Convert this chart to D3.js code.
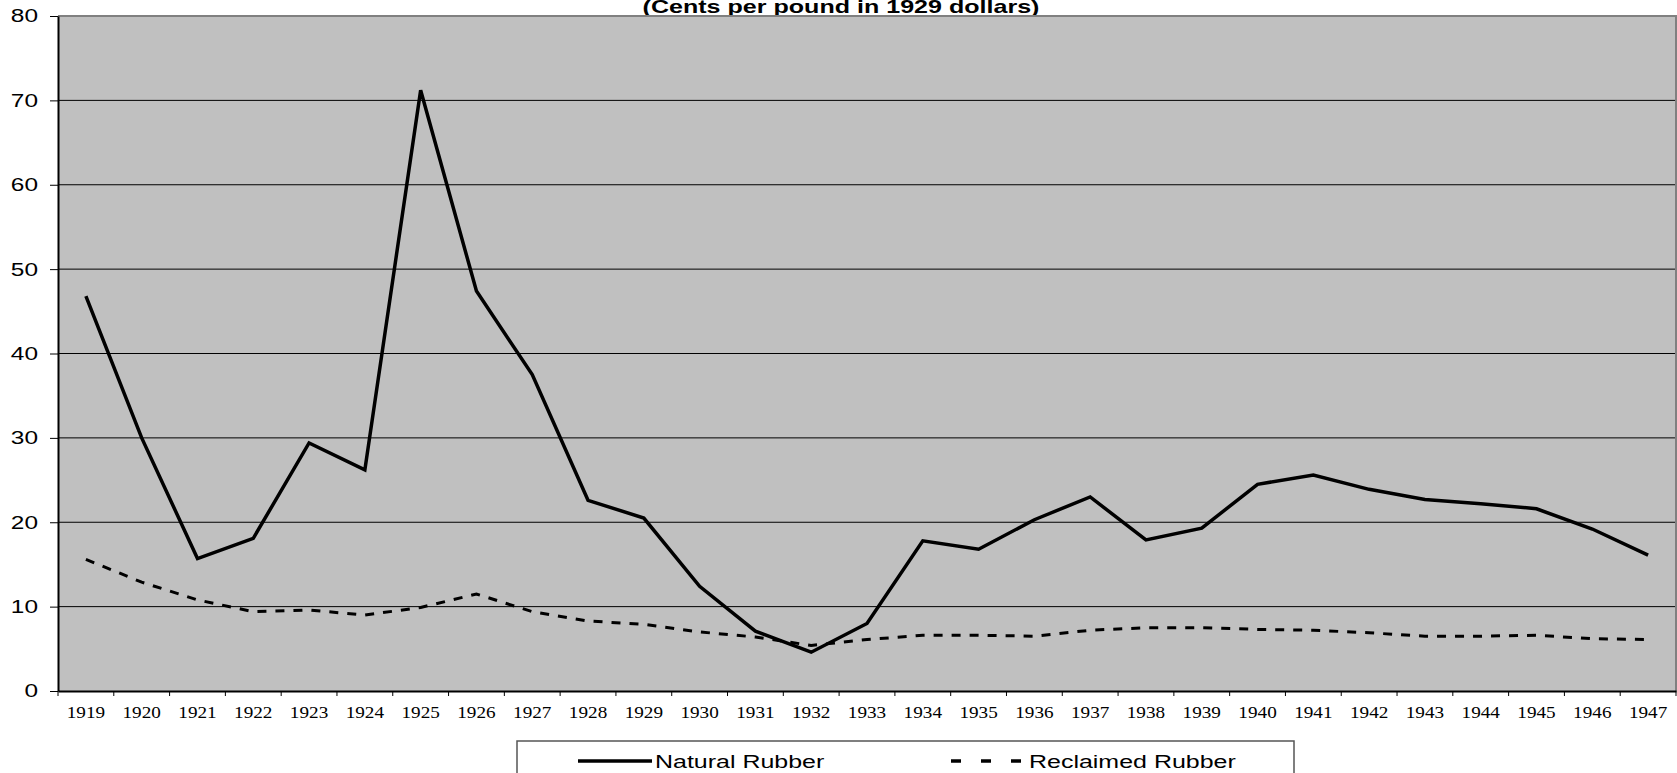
<!DOCTYPE html>
<html>
<head>
<meta charset="utf-8">
<script src="https://d3js.org/d3.v7.min.js"></script>
<style>
	body { margin: 0; background: #fff; overflow: hidden; }
	svg { display: block; }
</style>
</head>
<body>
<div id="chart-area"></div>
<script>
// data
const years = ["1919","1920","1921","1922","1923","1924","1925","1926","1927","1928",
	"1929","1930","1931","1932","1933","1934","1935","1936","1937","1938",
	"1939","1940","1941","1942","1943","1944","1945","1946","1947"]
const naturalRubber = [46.8, 30.0, 15.7, 18.1, 29.4, 26.2, 71.2, 47.4, 37.5, 22.6,
	20.5, 12.4, 7.1, 4.6, 8.0, 17.8, 16.8, 20.3, 23.0, 17.9,
	19.3, 24.5, 25.6, 23.9, 22.7, 22.2, 21.6, 19.2, 16.1]
const reclaimedRubber = [15.6, 12.9, 10.8, 9.4, 9.6, 9.0, 9.9, 11.5, 9.4, 8.3,
	7.9, 7.0, 6.4, 5.4, 6.1, 6.6, 6.6, 6.5, 7.2, 7.5,
	7.5, 7.3, 7.2, 6.9, 6.5, 6.5, 6.6, 6.2, 6.1]
const yTicks = [0, 10, 20, 30, 40, 50, 60, 70, 80]
const titleText = "(Cents per pound in 1929 dollars)"
const seriesNames = ["Natural Rubber", "Reclaimed Rubber"]

const MARGIN = { LEFT: 58, RIGHT: 1, TOP: 16, BOTTOM: 82 }
const W = 1677, H = 773
const WIDTH = W - MARGIN.LEFT - MARGIN.RIGHT
const HEIGHT = H - MARGIN.TOP - MARGIN.BOTTOM
const SX = 1.32   // the original picture is stretched sideways
const SANS = "'Liberation Sans', Arial, sans-serif"
const SERIF = "'Liberation Serif', 'Times New Roman', serif"

const svg = d3.select("#chart-area").append("svg")
	.attr("width", W)
	.attr("height", H)

// title (top is cut off in the reference)
svg.append("text")
	.attr("transform", `translate(841, 13) scale(${SX}, 1)`)
	.attr("text-anchor", "middle")
	.attr("font-family", SANS)
	.attr("font-weight", "bold")
	.attr("font-size", 19)
	.attr("fill", "#000")
	.text(titleText)

const g = svg.append("g")
	.attr("transform", `translate(${MARGIN.LEFT}, ${MARGIN.TOP})`)

// scales
const x = d3.scaleBand().domain(years).range([0, WIDTH]).padding(0)
const y = d3.scaleLinear().domain([0, 80]).range([HEIGHT, 0])
const cx = d => x(d) + x.bandwidth() / 2

// plot background
g.append("rect")
	.attr("width", WIDTH)
	.attr("height", HEIGHT)
	.attr("fill", "#c0c0c0")

// gridlines
g.append("g").selectAll("line")
	.data(yTicks.filter(v => v > 0 && v < 80))
	.join("line")
	.attr("x1", 0).attr("x2", WIDTH)
	.attr("y1", d => y(d)).attr("y2", d => y(d))
	.attr("stroke", "#000")
	.attr("stroke-width", 1)

// top and right border
g.append("path")
	.attr("d", `M0,${y(80)}H${WIDTH}V${HEIGHT}`)
	.attr("fill", "none")
	.attr("stroke", "#808080")
	.attr("stroke-width", 2)

// y axis
const yAxis = g.append("g")
	.call(d3.axisLeft(y).tickValues(yTicks).tickSize(8).tickSizeOuter(0))
yAxis.select(".domain").attr("stroke", "#000").attr("stroke-width", 2)
yAxis.selectAll(".tick line").attr("stroke", "#000")
yAxis.selectAll(".tick text")
	.attr("x", -20 / SX)
	.attr("transform", `scale(${SX}, 1)`)
	.attr("font-family", SANS)
	.attr("font-size", 18.5)
	.attr("fill", "#000")

// x axis (labels centred, ticks on category edges)
const xAxis = g.append("g")
	.attr("transform", `translate(0, ${HEIGHT})`)
	.call(d3.axisBottom(x).tickSize(0).tickSizeOuter(0))
xAxis.select(".domain").attr("stroke", "#000").attr("stroke-width", 2)
xAxis.selectAll(".tick text")
	.attr("y", 27)
	.attr("dy", 0)
	.attr("transform", `scale(1.13, 1)`)
	.attr("font-family", SERIF)
	.attr("font-size", 17)
	.attr("fill", "#000")
xAxis.selectAll(".edge")
	.data(years.map(d => x(d)).concat([x.range()[1]]))
	.join("line")
	.attr("class", "edge")
	.attr("x1", d => d).attr("x2", d => d)
	.attr("y1", 0).attr("y2", 5)
	.attr("stroke", "#000")

// series lines
const line = d3.line()
	.x((d, i) => cx(years[i]))
	.y(d => y(d))

g.append("path")
	.datum(reclaimedRubber)
	.attr("d", line)
	.attr("fill", "none")
	.attr("stroke", "#000")
	.attr("stroke-width", 3)
	.attr("stroke-dasharray", "9,9")

g.append("path")
	.datum(naturalRubber)
	.attr("d", line)
	.attr("fill", "none")
	.attr("stroke", "#000")
	.attr("stroke-width", 3.5)
	.attr("stroke-linejoin", "miter")

// legend
const legend = svg.append("g")
legend.append("rect")
	.attr("x", 517).attr("y", 741)
	.attr("width", 777).attr("height", 60)
	.attr("fill", "#fff")
	.attr("stroke", "#555")
	.attr("stroke-width", 1.5)

const legendItems = [
	{ name: seriesNames[0], x1: 578, x2: 652, dash: null, tx: 655 },
	{ name: seriesNames[1], x1: 951, x2: 1022, dash: "10,20", tx: 1029 }
]
legendItems.forEach(it => {
	legend.append("line")
		.attr("x1", it.x1).attr("x2", it.x2)
		.attr("y1", 761).attr("y2", 761)
		.attr("stroke", "#000")
		.attr("stroke-width", 3.5)
		.attr("stroke-dasharray", it.dash)
	legend.append("text")
		.attr("transform", `translate(${it.tx}, 768) scale(1.35, 1)`)
		.attr("font-family", SANS)
		.attr("font-size", 18.5)
		.attr("fill", "#000")
		.text(it.name)
})
</script>
</body>
</html>
